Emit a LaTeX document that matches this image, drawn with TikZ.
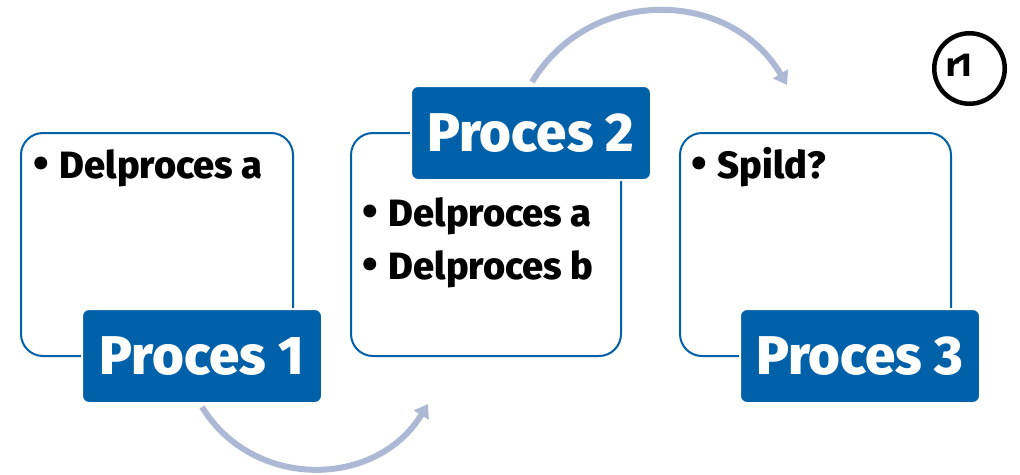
\documentclass[tikz,border=0pt]{standalone}
\usepackage{fontspec}
\setmainfont{Fira Sans}[BoldFont={Fira Sans ExtraBold}]
\definecolor{ublue}{HTML}{0060A8}
\definecolor{arc}{HTML}{ADB9D4}
\usetikzlibrary{arrows.meta}
\tikzset{
 x=1pt,y=-1pt,
 framebox/.style={draw=ublue,line width=2pt,rounded corners=22pt,minimum width=#1,minimum height=223pt,inner sep=0pt,fill=white},
 title/.style={fill=ublue,draw=white,line width=2pt,rounded corners=7pt,minimum width=240pt,minimum height=94pt,inner sep=0pt,text=white,font=\fontsize{54.5}{54.5}\selectfont\bfseries},
 item/.style={anchor=base west,inner sep=0pt,font=\fontsize{38}{38}\selectfont\bfseries},
 flow/.style={draw=arc,line width=6pt,-{Triangle[length=13pt,width=17pt]}},
}
\newcommand{\bul}{{\fontsize{44}{44}\selectfont •}\kern11pt }
\begin{document}
\begin{tikzpicture}
\useasboundingbox (0,0) rectangle (1020,474);
\node[framebox=272pt] (b1) at (157,244.5) {};
\node[framebox=270pt] (b2) at (486,244.5) {};
\node[framebox=271pt] (b3) at (815.5,244.5) {};
\node[title] (p1) at (202,356) {Proces 1};
\node[title] (p2) at (531,133) {Proces 2};
\node[title] (p3) at (860,356) {Proces 3};
\node[item] (t1) at (33,178) {\bul Delproces a};
\node[item] (t2) at (362,226) {\bul Delproces a};
\node[item] (t3) at (362,279) {\bul Delproces b};
\node[item] (t4) at (691,178) {\bul Spild?};
\coordinate (e1) at (428,404);
\coordinate (e2) at (787,85);
\draw[flow] (p1.south west) ++(121,3) coordinate (s1) (s1) .. controls (253,490) and (376,489) .. (e1);
\draw[flow] (p2.north west) ++(122,-3) coordinate (s2) (s2) .. controls (590,-14) and (730,-12) .. (e2);
\node[circle,draw=black,line width=4.5pt,minimum size=70.5pt,inner sep=0pt] (logo) at (969.5,68.5) {};
\node[inner sep=0pt,font=\fontsize{33}{33}\selectfont\bfseries] (mark) at (959.5,65.5) {r\kern-3pt 1};
\end{tikzpicture}
\end{document}
